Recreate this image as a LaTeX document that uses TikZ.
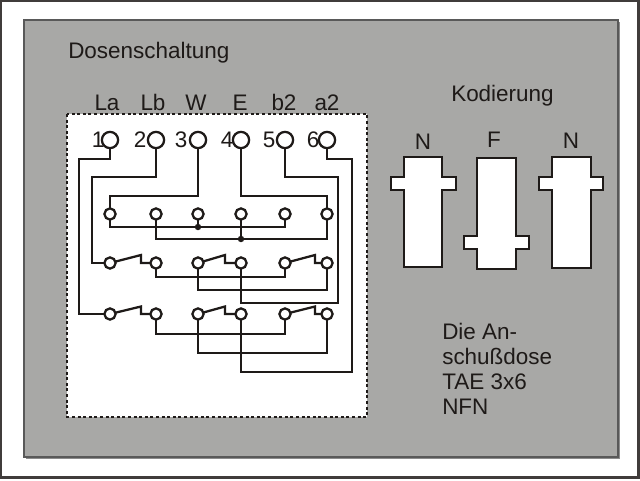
\documentclass[tikz,border=0pt]{standalone}
\usepackage{fontspec}
\setmainfont{Liberation Sans}
\definecolor{panel}{RGB}{168,168,166}
\definecolor{ink}{RGB}{30,26,24}
\tikzset{
  x=0.75pt,y=-0.75pt,
  wire/.style={draw=ink,line width=1.7pt,line join=miter},
  term/.style={circle,draw=ink,fill=white,line width=1.7pt,minimum size=12.2pt,inner sep=0pt},
  pin/.style={circle,draw=ink,fill=white,line width=1.7pt,minimum size=8.4pt,inner sep=0pt},
  dotj/.style={circle,fill=ink,minimum size=4.8pt,inner sep=0pt},
  lab/.style={font=\fontsize{16.85pt}{20pt}\selectfont,text=ink,inner sep=0pt,anchor=base},
  labl/.style={lab,anchor=base west},
  keyb/.style={draw=ink,fill=white,line width=1.5pt,line join=miter},
}
\begin{document}
\begin{tikzpicture}
\useasboundingbox (0,0) rectangle (640,480);
\draw[draw=ink!85,fill=white,line width=1.6pt] (1.2,0.6) rectangle (638.5,477.5);
\fill[black!45] (26,22) rectangle (619.5,458.5);
\draw[draw=black!65,fill=panel,line width=.8pt] (24,20) rectangle (618,457);
\draw[draw=ink,fill=white,line width=1.8pt,dash pattern=on 2.3pt off 1.9pt] (67,114) rectangle (367,417);

% terminals
\foreach \n/\x/\l/\lx/\d/\dx in {1/110/La/107/1/98,2/156/Lb/153/2/140,3/198/W/196/3/181,4/241/E/240/4/227,5/285/b2/284/5/269,6/327/a2/327/6/313}{
  \node[term] (t\n) at (\x,140) {};
  \node[lab] (name\n) at (\lx,110.5) {\l};
  \node[lab] (num\n) at (\dx,147) {\d};
  \coordinate (a\n) at (\x,214);
  \coordinate (b\n) at (\x,263);
  \coordinate (c\n) at (\x,314);
}
% top row wiring
\draw[wire] (t3) -- (198,196) -- (110,196) -- (110,227) -- (285,227) -- (a5);
\draw[wire] (t4) -- (241,196) -- (327,196) -- (327,239) -- (156,239) -- (a2);
\draw[wire] (a3) -- (198,227);
\draw[wire] (a4) -- (241,239);
% feeds
\draw[wire] (t1) -- (110,159) -- (79,159) -- (79,314) -- (c1);
\draw[wire] (t2) -- (156,177) -- (92,177) -- (92,263) -- (b1);
\draw[wire] (t5) -- (285,177) -- (338,177) -- (338,303) -- (241,303) -- (b4);
\draw[wire] (t6) -- (327,159) -- (352,159) -- (352,372) -- (241,372) -- (c4);
% row 2 and 3 wiring
\draw[wire] (b2) -- (156,277) -- (285,277) -- (b5);
\draw[wire] (b3) -- (198,290) -- (327,290) -- (b6);
\draw[wire] (c2) -- (156,334) -- (285,334) -- (c5);
\draw[wire] (c3) -- (198,353) -- (327,353) -- (c6);
% switches
\foreach \p/\q/\s in {1/2/141,3/4/225,5/6/315}{
  \draw[wire] (b\p) -- (\s,255) -- (\s,263) -- (b\q);
  \draw[wire] (c\p) -- (\s,306.5) -- (\s,314) -- (c\q);
}
% pins
\foreach \n/\x in {1/110,2/156,3/198,4/241,5/285,6/327}{
  \node[pin] (pa\n) at (a\n) {};
  \node[pin] (pb\n) at (b\n) {};
  \node[pin] (pc\n) at (c\n) {};
}
\node[dotj] (j1) at (198,227) {};
\node[dotj] (j2) at (241,239) {};

% coding keys
\draw[keyb] (404,157) -- (442,157) -- (442,177) -- (456,177) -- (456,190) -- (442,190) -- (442,267) -- (404,267) -- (404,190) -- (391,190) -- (391,177) -- (404,177) -- cycle;
\draw[keyb] (477,158) -- (516,158) -- (516,236) -- (529,236) -- (529,249) -- (516,249) -- (516,269) -- (477,269) -- (477,249) -- (464,249) -- (464,236) -- (477,236) -- cycle;
\draw[keyb] (552,157) -- (591,157) -- (591,177) -- (603,177) -- (603,190) -- (591,190) -- (591,268) -- (552,268) -- (552,190) -- (539,190) -- (539,177) -- (552,177) -- cycle;
\node[lab] (kn1) at (423,149.5) {N};
\node[lab] (kf) at (494,147.5) {F};
\node[lab] (kn2) at (571,148) {N};

% texts
\node[labl] (title) at (68,58) {Dosenschaltung};
\node[labl] (kod) at (451,101) {Kodierung};
\node[labl] (d1) at (442,339) {Die An-};
\node[labl] (d2) at (442,364) {schußdose};
\node[labl] (d3) at (442,389.5) {TAE 3x6};
\node[labl] (d4) at (442,414.5) {NFN};
\end{tikzpicture}
\end{document}
